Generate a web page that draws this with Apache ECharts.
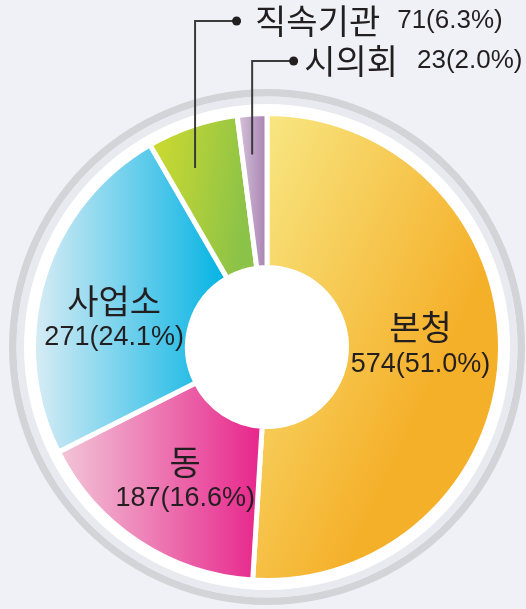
<!DOCTYPE html>
<html lang="ko">
<head>
<meta charset="utf-8">
<title>기관별 현황</title>
<script src="https://cdn.jsdelivr.net/npm/echarts@6/dist/echarts.min.js"></script>
<style>
  html, body { margin: 0; padding: 0; background: #eff1f6; }
  #chart { width: 526px; height: 609px; }
</style>
</head>
<body>
<div id="chart"></div>
<script>
// 기관 구분과 인원
const categories = ['본청', '동', '사업소', '직속기관', '시의회'];
const counts = [574, 187, 271, 71, 23];
// 조각별 그라데이션 (밝은 쪽 → 진한 쪽)과 방향
const lightColors = ['#f8ea88', '#f2c9d9', '#dbedf5', '#d3dc2e', '#dacbdf'];
const darkColors  = ['#f5b02a', '#e7238a', '#00b2e3', '#8bc248', '#a47bad'];
const gradientDir = [[1, 0.25], [1, 0], [1, 0], [1, 0.1], [1, 0]];
// 바깥에 지시선으로 표시하는 항목: 지시선 위치(조각 안 비율), 라벨 높이, 글자 간격
const outsideNames = ['직속기관', '시의회'];
const outsideAnchorFrac = [0.36, 0.40];
const outsideLabelY = [21, 61];
const outsideGap = [[14, 17], [6, 19]];
// 안쪽 라벨 미세 이동
const insideShift = { '본청': [-6, -6], '동': [6, 0], '사업소': [0, 18] };

const CX = 267, CY = 347;
const R_IN = 79.5, R_OUT = 233.5;
const LINE_R = 193;
const total = counts.reduce((a, b) => a + b, 0);
const pct = v => (v / total * 100).toFixed(1);

const NAME_FONT = '"Noto Sans CJK KR", "Noto Sans", sans-serif';
const NUM_FONT = '"Liberation Sans", Arial, sans-serif';
const TEXT_COLOR = '#231f20';

// 시작각 90°에서 시계 방향으로 누적한 각 조각의 시작 각도
const startAngles = [];
counts.reduce((acc, v, i) => { startAngles[i] = 90 - acc / total * 360; return acc + v; }, 0);

const base = {
  type: 'pie',
  center: [CX, CY],
  radius: [R_IN, R_OUT],
  startAngle: 90,
  clockwise: true,
  avoidLabelOverlap: false,
  emphasis: { disabled: true }
};

// 조각과 안쪽 라벨
const sliceData = categories.map((name, i) => ({
  name: name,
  value: counts[i],
  itemStyle: {
    color: new echarts.graphic.LinearGradient(0, 0, gradientDir[i][0], gradientDir[i][1], [
      { offset: 0, color: lightColors[i] },
      { offset: 1, color: darkColors[i] }
    ])
  },
  label: { show: !outsideNames.includes(name) }
}));

// 같은 값으로 겹쳐 그리는 투명 조각: 바깥 라벨과 지시선만 표시
const calloutData = categories.map((name, i) => {
  const k = outsideNames.indexOf(name);
  const item = {
    name: name,
    value: counts[i],
    label: { show: k >= 0 },
    labelLine: { show: k >= 0 }
  };
  if (k >= 0) {
    item.label.rich = {
      dot: { width: 9, height: 9, lineHeight: 9, backgroundColor: TEXT_COLOR, borderRadius: 4.5, verticalAlign: 'middle' },
      on: { fontFamily: NAME_FONT, fontSize: 34, lineHeight: 38, color: TEXT_COLOR, padding: [0, outsideGap[k][1], 0, outsideGap[k][0]], verticalAlign: 'middle' },
      ov: { fontFamily: NUM_FONT, fontSize: 26, lineHeight: 38, color: TEXT_COLOR, verticalAlign: 'middle' }
    };
  }
  return item;
});

const ring = (r, color) => ({
  type: 'pie',
  silent: true,
  z: 1,
  center: [CX, CY],
  radius: r,
  label: { show: false },
  labelLine: { show: false },
  emphasis: { disabled: true },
  itemStyle: { color: color, borderWidth: 0 },
  data: [{ value: 1 }]
});

const chart = echarts.init(document.getElementById('chart'), null, { renderer: 'canvas' });

chart.setOption({
  backgroundColor: '#eff1f6',
  animation: false,
  series: [
    ring([250.5, 258], '#d3d4d7'),
    ring([242.5, 250.5], '#e8eaf0'),
    ring([0, 243], '#ffffff'),
    Object.assign({}, base, {
      z: 2,
      itemStyle: { borderColor: '#ffffff', borderWidth: 5 },
      label: {
        position: 'inside',
        color: TEXT_COLOR,
        formatter: p => '{n|' + p.name + '}\n{v|' + p.value + '(' + pct(p.value) + '%)}',
        rich: {
          n: { fontFamily: NAME_FONT, fontSize: 34, lineHeight: 37, color: TEXT_COLOR, align: 'center' },
          v: { fontFamily: NUM_FONT, fontSize: 27, lineHeight: 37, color: TEXT_COLOR, align: 'center' }
        }
      },
      labelLine: { show: false },
      labelLayout: function (params) {
        const s = insideShift[categories[params.dataIndex]] || [0, 0];
        return { dx: s[0], dy: s[1] };
      },
      data: sliceData
    }),
    Object.assign({}, base, {
      z: 3,
      silent: true,
      itemStyle: { color: 'rgba(0,0,0,0)', borderWidth: 0 },
      label: {
        position: 'outside',
        color: TEXT_COLOR,
        formatter: p => '{dot| }{on|' + p.name + '}{ov|' + p.value + '(' + pct(p.value) + '%)}'
      },
      labelLine: {
        smooth: false,
        lineStyle: { color: '#3b3b3b', width: 2 }
      },
      labelLayout: function (params) {
        const i = params.dataIndex;
        const k = outsideNames.indexOf(categories[i]);
        if (k < 0) return {};
        // 지시선: 조각 안쪽에서 위로 올라가 오른쪽으로 꺾여 점까지
        const span = counts[i] / total * 360;
        const ang = (startAngles[i] - span * outsideAnchorFrac[k]) * Math.PI / 180;
        const x0 = CX + LINE_R * Math.cos(ang);
        const y0 = CY - LINE_R * Math.sin(ang);
        const y1 = outsideLabelY[k];
        const xLabel = x0 + 37;
        return {
          x: xLabel,
          y: y1,
          align: 'left',
          verticalAlign: 'middle',
          labelLinePoints: [[x0, y0], [x0, y1], [xLabel + 2, y1]]
        };
      },
      data: calloutData
    })
  ]
});
</script>
</body>
</html>
